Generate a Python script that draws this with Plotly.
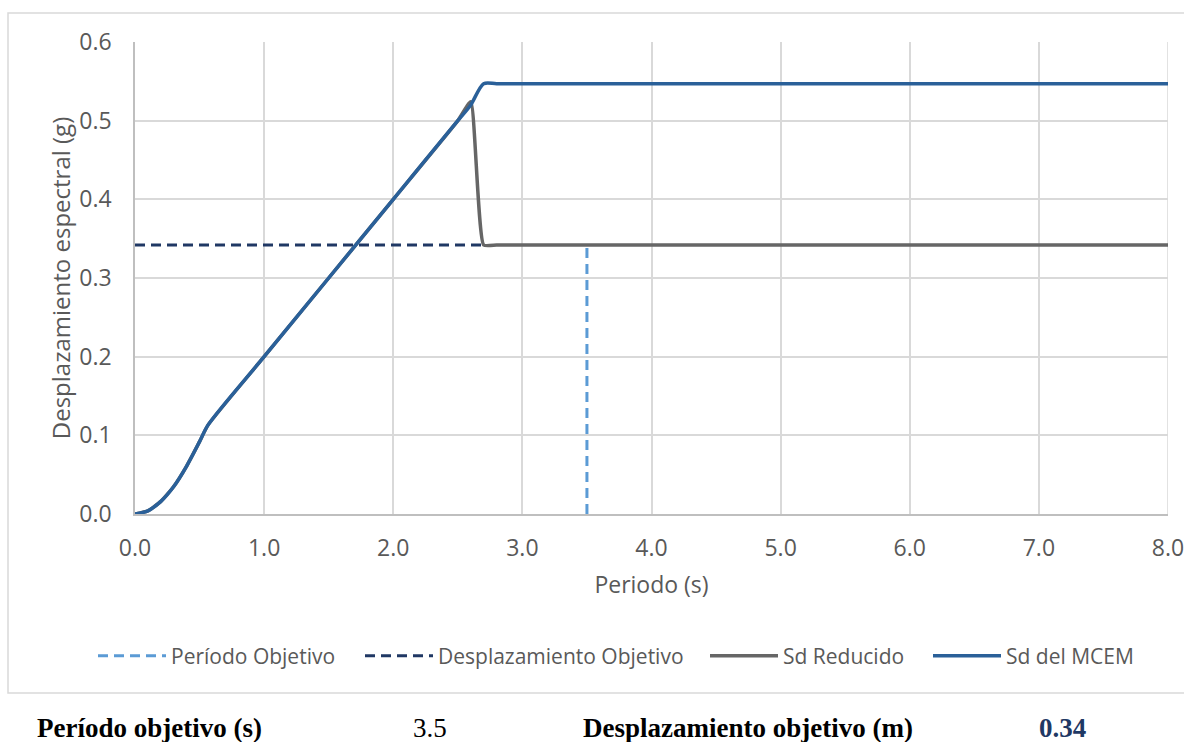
import plotly.graph_objects as go

# Spectral displacement curves (period in s, Sd in g)
periods = [0.0, 0.1, 0.2, 0.3, 0.4, 0.5, 0.565, 1.0, 1.5, 2.0, 2.5, 2.6, 2.7, 2.8, 3.0, 4.0, 5.0, 6.0, 7.0, 8.0]
sd_mcem = [0.0, 0.004, 0.016, 0.035, 0.061, 0.092, 0.113, 0.2, 0.3, 0.4, 0.5, 0.52, 0.547, 0.547, 0.547, 0.547, 0.547, 0.547, 0.547, 0.547]
sd_reducido = [0.0, 0.004, 0.016, 0.035, 0.061, 0.092, 0.113, 0.2, 0.3, 0.4, 0.5, 0.524, 0.342, 0.342, 0.342, 0.342, 0.342, 0.342, 0.342, 0.342]

# Target values
target_period = 3.5
target_sd = 0.342
target_sd_end = 2.71

x_ticks = [0, 1, 2, 3, 4, 5, 6, 7, 8]
y_ticks = [0.0, 0.1, 0.2, 0.3, 0.4, 0.5, 0.6]

FONT = "Open Sans"
GREY = "#595959"

# pixel layout helpers
L, R, T, B = 135, 1168, 42, 514
W, H = 1184, 742


def px(x):
    return (x - L) / (R - L)


def py(y):
    return (B - y) / (B - T)


fig = go.Figure()

fig.add_trace(go.Scatter(
    x=[target_period, target_period], y=[0, target_sd],
    mode="lines", name="Período Objetivo", legend="legend", showlegend=True,
    line=dict(color="#5B9BD5", width=3, dash="10px,6px"),
))
fig.add_trace(go.Scatter(
    x=[0, target_sd_end], y=[target_sd, target_sd],
    mode="lines", name="Desplazamiento Objetivo", legend="legend2", showlegend=True,
    line=dict(color="#203864", width=3, dash="10px,6px"),
))
fig.add_trace(go.Scatter(
    x=periods, y=sd_reducido,
    mode="lines", name="Sd Reducido", legend="legend3", showlegend=True,
    line=dict(color="#666666", width=3.5, shape="spline", smoothing=0.45),
))
fig.add_trace(go.Scatter(
    x=periods, y=sd_mcem,
    mode="lines", name="Sd del MCEM", legend="legend4", showlegend=True,
    line=dict(color="#2A6099", width=3.5, shape="spline", smoothing=0.8),
))

legend_common = dict(
    orientation="h", yanchor="middle", xanchor="left", y=py(656),
    font=dict(family=FONT, size=21, color=GREY), itemwidth=68,
    bgcolor="rgba(0,0,0,0)", borderwidth=0,
)

fig.update_layout(
    width=W, height=H,
    margin=dict(l=L, r=W - R, t=T, b=H - B),
    paper_bgcolor="white", plot_bgcolor="white",
    font=dict(family=FONT, color=GREY),
    showlegend=True,
    legend=dict(x=px(93), **legend_common),
    legend2=dict(x=px(360), **legend_common),
    legend3=dict(x=px(705), **legend_common),
    legend4=dict(x=px(928), **legend_common),
    xaxis=dict(
        range=[0, 8], tickvals=x_ticks, tickformat=".1f", automargin=False,
        ticklabeloverflow="allow",
        showgrid=True, gridcolor="#D9D9D9", gridwidth=1.5,
        showline=True, linecolor="#BFBFBF", linewidth=1.5,
        zeroline=False, ticks="", ticklabelstandoff=13,
        tickfont=dict(family=FONT, size=23, color=GREY),
        title=dict(text="Periodo (s)", font=dict(family=FONT, size=23, color=GREY), standoff=15),
    ),
    yaxis=dict(
        range=[0, 0.6], tickvals=y_ticks, tickformat=".1f", automargin=False,
        showgrid=True, gridcolor="#D9D9D9", gridwidth=1.5,
        showline=True, linecolor="#BFBFBF", linewidth=1.5,
        zeroline=False, ticks="", ticklabelstandoff=17,
        tickfont=dict(family=FONT, size=23, color=GREY),
        title=dict(text="Desplazamiento espectral (g)", font=dict(family=FONT, size=24, color=GREY), standoff=2),
    ),
)

# Chart frame
fig.add_shape(
    type="rect", xref="paper", yref="paper", layer="below",
    x0=px(8), x1=px(1192), y0=py(693), y1=py(13),
    line=dict(color="#D9D9D9", width=1.5), fillcolor="rgba(0,0,0,0)",
)
# Right edge gridline of plotting area
fig.add_shape(
    type="line", xref="x", yref="paper", layer="below",
    x0=8, x1=8, y0=0, y1=1, line=dict(color="#D9D9D9", width=1.5),
)

# Summary row beneath the chart
serif = "Liberation Serif"
summary = [
    (35, "Período objetivo (s)", "left", True, "black"),
    (430, f"{target_period:.1f}", "center", False, "black"),
    (581, "Desplazamiento objetivo (m)", "left", True, "black"),
    (1062, f"{target_sd:.2f}", "center", True, "#1F3864"),
]
for xpix, text, anchor, bold, color in summary:
    fig.add_annotation(
        x=px(xpix), y=py(728), xref="paper", yref="paper",
        xanchor=anchor, yanchor="middle", showarrow=False,
        text=f"<b>{text}</b>" if bold else text,
        font=dict(family=serif, size=27, color=color),
    )

fig.write_html("out.html")
